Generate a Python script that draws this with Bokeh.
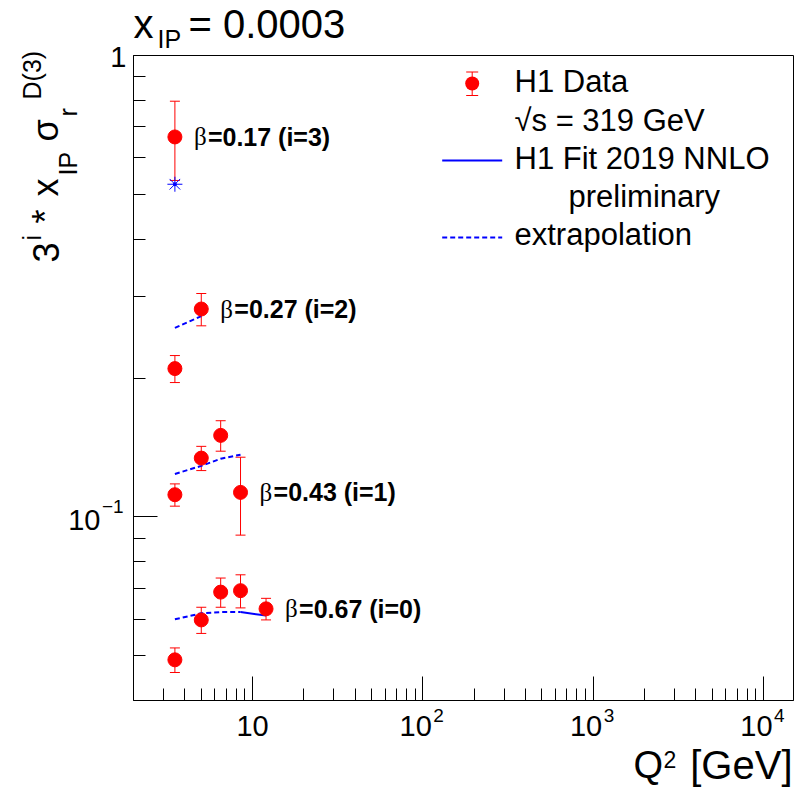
import math
from bokeh.plotting import figure
from bokeh.models import (FixedTicker, CustomJSTickFormatter, Label, Whisker, TeeHead,
                          ColumnDataSource, Arrow, BoxAnnotation, Range1d)
from bokeh.embed import file_html
from bokeh.resources import INLINE

# ---------------- data (3^i * x_IP * sigma_r^D(3)) ----------------
betas = ["0.67", "0.43", "0.27", "0.17"]
i_index = [0, 1, 2, 3]

q2_i0 = [3.5, 5.0, 6.5, 8.5, 12.0]
val_i0 = [0.0490, 0.0598, 0.0687, 0.0692, 0.0632]
err_i0 = [0.0030, 0.0039, 0.0050, 0.0057, 0.0034]

q2_i1 = [3.5, 5.0, 6.5, 8.5]
val_i1 = [0.1117, 0.1341, 0.1502, 0.1130]
err_i1 = [0.0062, 0.0081, 0.0114, 0.0217]

q2_i2 = [3.5, 5.0]
val_i2 = [0.2096, 0.2822]
err_i2 = [0.0141, 0.0227]

q2_i3 = [3.5]
val_i3 = [0.666]
err_i3 = [0.130]

# H1 Fit 2019 NNLO curves (solid inside fit range, dashed = extrapolation)
fit_q2_i0 = [3.5, 5.0, 6.5, 8.5, 12.0]
fit_i0 = [0.0600, 0.0618, 0.0622, 0.0622, 0.0611]
fit_q2_i1 = [3.5, 5.0, 6.5, 8.5]
fit_i1 = [0.1239, 0.1290, 0.1337, 0.1364]
fit_q2_i2 = [3.5, 5.0]
fit_i2 = [0.2569, 0.2723]
fit_q2_i3 = [3.5]
fit_i3 = [0.526]
fit_q2_min = 8.5

# axis ranges and ticks
X_MIN, X_MAX = 2.0, 15000.0
Y_MIN, Y_MAX = 0.04, 1.0
x_tick_values = [10, 100, 1000, 10000]
x_tick_base = ["10", "10", "10", "10"]
x_tick_exp = ["", "2", "3", "4"]
y_tick_values = [0.1, 1.0]
y_tick_base = ["10", "1"]
y_tick_exp = ["\u22121", ""]

# ---------------- layout (pixel geometry of the plot box) ----------------
W, H = 796, 804
FL, FR, FT, FB = 133, 793, 55, 700
FONT = "Liberation Sans"
RED = "#ff0000"
BLUE = "#0000ff"
MID = 0.35  # text middle above baseline, in em

lx0, lx1 = math.log10(X_MIN), math.log10(X_MAX)
ppx = (FR - FL) / (lx1 - lx0)
ly0, ly1 = math.log10(Y_MIN), math.log10(Y_MAX)
ppy = (FB - FT) / (ly1 - ly0)
xr = Range1d(10 ** (lx0 - FL / ppx), 10 ** (lx1 + (W - FR) / ppx))
yr = Range1d(10 ** (ly0 - (H - FB) / ppy), 10 ** (ly1 + FT / ppy))


def sx(xc):
    return xc


def sy(yc):
    return H - yc


p = figure(width=W, height=H, x_axis_type="log", y_axis_type="log",
           x_range=xr, y_range=yr,
           output_backend="svg", toolbar_location=None, tools="")
p.title.visible = False
p.min_border = 0
p.min_border_left = 0
p.min_border_right = 0
p.min_border_top = 0
p.min_border_bottom = 0
p.grid.visible = False
p.outline_line_color = None
p.background_fill_color = "white"
p.border_fill_color = "white"

xminor = [m * 10 ** k for k in range(0, 5) for m in range(2, 10) if X_MIN < m * 10 ** k < X_MAX]
yminor = [m * 10.0 ** k for k in (-2, -1) for m in range(2, 10) if Y_MIN < m * 10.0 ** k < Y_MAX]
p.xaxis.ticker = FixedTicker(ticks=x_tick_values, minor_ticks=xminor)
p.yaxis.ticker = FixedTicker(ticks=y_tick_values, minor_ticks=yminor)
p.xaxis.fixed_location = Y_MIN
p.xaxis.bounds = (X_MIN, X_MAX)
p.yaxis.fixed_location = X_MIN
p.yaxis.bounds = (Y_MIN, Y_MAX)
for ax in (p.xaxis[0], p.yaxis[0]):
    ax.formatter = CustomJSTickFormatter(code="return ''")
    ax.major_tick_in = 24
    ax.major_tick_out = 0
    ax.minor_tick_in = 12
    ax.minor_tick_out = 0
    ax.major_tick_line_color = "black"
    ax.minor_tick_line_color = "black"
    ax.axis_line_color = "black"
    ax.major_label_standoff = 0

p.add_layout(BoxAnnotation(left=X_MIN, right=X_MAX, bottom=Y_MIN, top=Y_MAX,
                           fill_alpha=0.0, line_color="black", line_width=1, line_alpha=1.0,
                           level="underlay"))

# ---------------- data drawing ----------------
series = [
    (q2_i0, val_i0, err_i0, fit_q2_i0, fit_i0),
    (q2_i1, val_i1, err_i1, fit_q2_i1, fit_i1),
    (q2_i2, val_i2, err_i2, fit_q2_i2, fit_i2),
    (q2_i3, val_i3, err_i3, fit_q2_i3, fit_i3),
]

for k, (q, v, e, fq, fv) in enumerate(series):
    if len(fq) > 1:
        dq = [a for a in fq if a <= fit_q2_min]
        dv = [b for a, b in zip(fq, fv) if a <= fit_q2_min]
        if len(dq) > 1:
            p.line(dq, dv, line_color=BLUE, line_width=2, line_dash="5 3")
        sq = [a for a in fq if a >= fit_q2_min]
        svv = [b for a, b in zip(fq, fv) if a >= fit_q2_min]
        if len(sq) > 1:
            p.line(sq, svv, line_color=BLUE, line_width=2)
    src = ColumnDataSource(dict(
        q2=q, val=v,
        up=[a + b for a, b in zip(v, e)],
        lo=[a - b for a, b in zip(v, e)]))
    p.add_layout(Whisker(source=src, base="q2", upper="up", lower="lo",
                         dimension="height", line_color=RED, line_width=1,
                         upper_head=TeeHead(size=10, line_color=RED, line_width=1),
                         lower_head=TeeHead(size=10, line_color=RED, line_width=1)))
    p.scatter("q2", "val", source=src, marker="circle", size=14,
              fill_color=RED, line_color=RED)
    if len(fq) == 1:
        p.scatter(fq, fv, marker="asterisk", size=15, line_color=BLUE, line_width=1)
        p.scatter(fq, fv, marker="circle", size=3, fill_color=BLUE, line_color=BLUE)
    p.add_layout(Label(x=q[-1], y=v[-1], x_offset=19, text="\u03b2",
                       text_font="Liberation Serif", text_font_size="25px",
                       text_baseline="middle", text_align="left", text_color="black"))
    p.add_layout(Label(x=q[-1], y=v[-1], x_offset=33,
                       text=f"={betas[k]} (i={i_index[k]})",
                       text_font=FONT, text_font_size="25px", text_font_style="bold",
                       text_baseline="middle", text_align="left", text_color="black"))


# ---------------- texts ----------------
def lab(xc, base, text, size, align="left", rot=False):
    """xc/base: canvas position of the text start and of its baseline."""
    if rot:
        x, y, ang = base - MID * size, xc, math.pi / 2
    else:
        x, y, ang = xc, base - MID * size, 0.0
    p.add_layout(Label(x=sx(x), y=sy(y), x_units="screen", y_units="screen",
                       text=text, text_font=FONT, text_font_size=f"{size}px",
                       text_align=align, text_baseline="middle", angle=ang,
                       text_color="black"))


def tick_label(x, y, xu, yu, text, size, align, xo=0.0, yo=0.0):
    p.add_layout(Label(x=x, y=y, x_units=xu, y_units=yu, text=text,
                       x_offset=xo, y_offset=yo, text_font=FONT,
                       text_font_size=f"{size}px", text_align=align,
                       text_baseline="middle", text_color="black"))


# tick labels x
for t, b, ex in zip(x_tick_values, x_tick_base, x_tick_exp):
    if ex == "":
        tick_label(t, sy(736 - MID * 29), "data", "screen", b, 29, "center")
    else:
        tick_label(t, sy(736 - MID * 29), "data", "screen", b, 29, "right", xo=9)
        tick_label(t, sy(721.5 - MID * 19), "data", "screen", ex, 19, "left", xo=10.5)

# tick labels y
for t, b, ex in zip(y_tick_values, y_tick_base, y_tick_exp):
    if ex == "":
        tick_label(sx(126), t, "screen", "data", b, 29, "right", yo=-1)
    else:
        tick_label(sx(100), t, "screen", "data", b, 29, "right", yo=-3)
        tick_label(sx(101.5), t, "screen", "data", ex, 19, "left", yo=10)

# title
lab(133, 37, "x", 40)
lab(157, 47, "IP", 25)
lab(188, 37, "= 0.0003", 40)

# x-axis title
lab(633, 778, "Q", 38)
lab(663, 767, "2", 23)
lab(792, 778, "[GeV]", 40, align="right")

# y-axis title (rotated, reading upwards; first = canvas y of start, second = canvas x of baseline)
lab(262, 58, "3", 36, rot=True)
lab(240, 40, "i", 25, rot=True)
lab(223, 58, "*", 36, rot=True)
lab(196, 58, "x", 36, rot=True)
lab(175, 76, "IP", 25, rot=True)
lab(141, 58, "\u03c3", 36, rot=True)
lab(116, 76, "r", 25, rot=True)
lab(99, 40, "D(3)", 25, rot=True)

# ---------------- legend ----------------
mx, my = 471.7, 83.0
p.add_layout(Arrow(x_start=sx(mx), y_start=sy(71.5), x_end=sx(mx), y_end=sy(95),
                   start_units="screen", end_units="screen",
                   start=TeeHead(size=12, line_color=RED, line_width=1),
                   end=TeeHead(size=12, line_color=RED, line_width=1),
                   line_color=RED, line_width=1))
p.add_layout(BoxAnnotation(left=sx(mx - 7), right=sx(mx + 7), top=sy(my - 7), bottom=sy(my + 7),
                           left_units="screen", right_units="screen",
                           top_units="screen", bottom_units="screen",
                           fill_color=RED, fill_alpha=1.0, line_alpha=0.0, border_radius=7))
p.add_layout(Arrow(x_start=sx(441.7), y_start=sy(160), x_end=sx(501.7), y_end=sy(160),
                   start_units="screen", end_units="screen", end=None,
                   line_color=BLUE, line_width=2))
p.add_layout(Arrow(x_start=sx(441.7), y_start=sy(237), x_end=sx(501.7), y_end=sy(237),
                   start_units="screen", end_units="screen", end=None,
                   line_color=BLUE, line_width=2, line_dash="5 3"))

lab(514, 92, "H1 Data", 31)
lab(514, 130.5, "\u221as = 319 GeV", 31)
lab(514, 169, "H1 Fit 2019 NNLO", 31)
lab(568, 206.5, "preliminary", 31)
lab(514, 245, "extrapolation", 31)

open("out.html", "w").write(file_html(p, INLINE))
